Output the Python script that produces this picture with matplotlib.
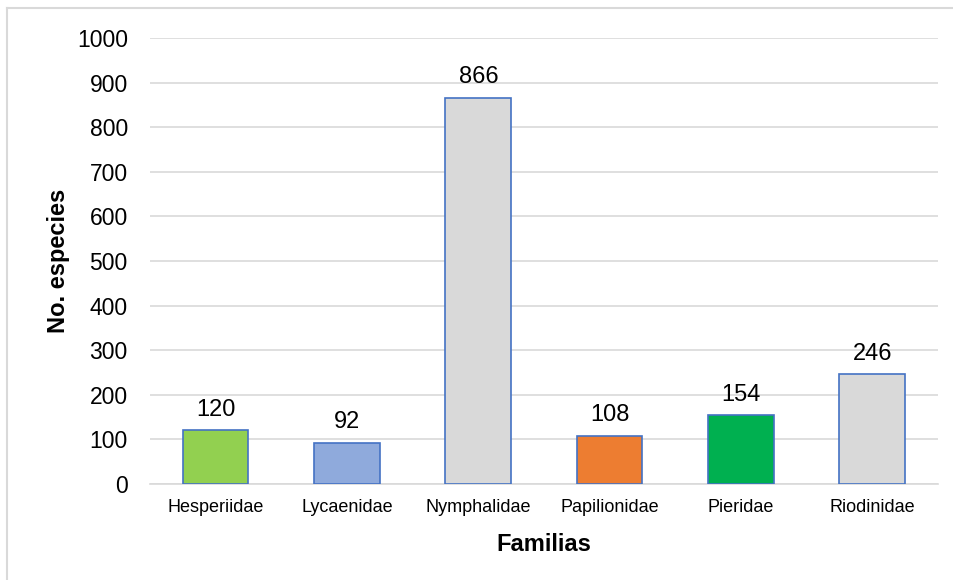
import matplotlib.pyplot as plt
from matplotlib.lines import Line2D

plt.rcParams['font.family'] = ['Liberation Sans', 'DejaVu Sans']

familias = ['Hesperiidae', 'Lycaenidae', 'Nymphalidae', 'Papilionidae', 'Pieridae', 'Riodinidae']
especies = [120, 92, 866, 108, 154, 246]
colores = ['#92D050', '#8FAADC', '#D9D9D9', '#ED7D31', '#00B050', '#D9D9D9']

fig = plt.figure(figsize=(9.54, 5.8), dpi=100)
W, H = 954, 580
ax = fig.add_axes([150 / W, (H - 484) / H, (938 - 150) / W, (484 - 38) / H])

x = range(len(familias))
bars = ax.bar(x, especies, width=0.5, color=colores, edgecolor='#4472C4', linewidth=1.2, zorder=3)
for b, v in zip(bars, especies):
    ax.annotate(str(v), (b.get_x() + b.get_width() / 2, v), xytext=(0, 7),
                textcoords='offset points', ha='center', va='bottom', fontsize=17)

ax.set_xlim(-0.5, len(familias) - 0.5)
ax.set_ylim(0, 1000)
ax.set_yticks(range(0, 1001, 100))
ax.set_xticks(list(x))
ax.set_xticklabels(familias, fontsize=13)
ax.tick_params(axis='y', labelsize=16.5, length=0, pad=16)
ax.tick_params(axis='x', length=0, pad=11)
ax.grid(axis='y', color='#D9D9D9', linewidth=1.2, zorder=0)
for s in ['top', 'right', 'left']:
    ax.spines[s].set_visible(False)
ax.spines['bottom'].set_color('#D9D9D9')
ax.spines['bottom'].set_linewidth(1.2)

ax.set_ylabel('No. especies', fontsize=17, fontweight='bold', labelpad=5)
ax.set_xlabel('Familias', fontsize=17, fontweight='bold', labelpad=12)

# chart frame (only top and left edges show)
fig.add_artist(Line2D([7 / W, 1], [(H - 8) / H] * 2, transform=fig.transFigure,
                      color='#D9D9D9', linewidth=1.5))
fig.add_artist(Line2D([7 / W] * 2, [0, (H - 8) / H], transform=fig.transFigure,
                      color='#D9D9D9', linewidth=1.5))

fig.savefig('out.png', dpi=100)
